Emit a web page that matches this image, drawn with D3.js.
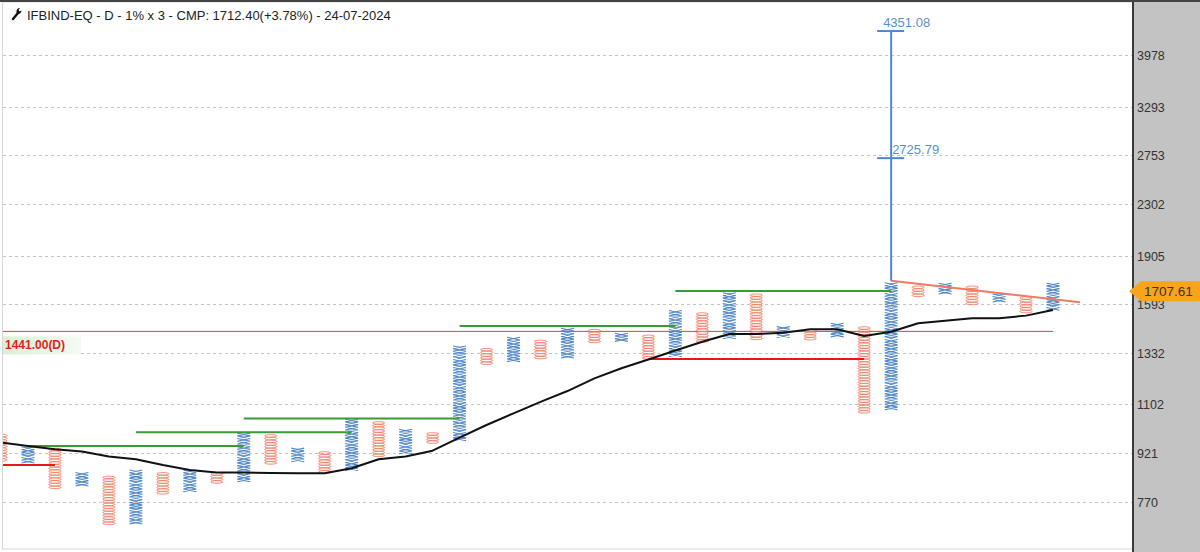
<!DOCTYPE html>
<html>
<head>
<meta charset="utf-8">
<script src="https://cdn.jsdelivr.net/npm/d3@7"></script>
<style>
  html, body { margin: 0; padding: 0; background: #fff; }
  svg { display: block; }
</style>
</head>
<body>
<svg id="chart" width="1200" height="552"></svg>
<script>
// ---- data ----
const colType = ["O","X","O","X","O","X","O","X","O","X","O","X","O","X","O","X","O","X","O","X",
                 "O","X","O","X","O","X","O","X","O","X","O","X","O","X","O","X","O","X","O","X"];
const colHigh = [982, 938, 933, 853, 842, 861, 853, 861, 853, 986, 981, 933, 921, 1038, 1029, 1000, 988, 1359, 1347, 1403,
                 1389, 1450, 1445, 1424, 1415, 1548, 1536, 1653, 1646, 1459, 1445, 1477, 1459, 1715, 1695, 1712, 1695, 1646, 1629, 1712];
const colLow  = [896, 893, 810, 816, 710, 716, 793, 803, 826, 833, 886, 893, 859, 867, 913, 919, 959, 971, 1279, 1290,
                 1307, 1319, 1389, 1399, 1307, 1319, 1389, 1403, 1399, 1417, 1399, 1417, 1071, 1081, 1645, 1661, 1596, 1609, 1548, 1566];
const maValues = [957, 945, 934, 926, 909, 900, 881, 865, 857, 857, 856, 855, 855, 871, 900, 909, 929, 975, 1021, 1066,
                  1112, 1157, 1212, 1258, 1299, 1343, 1387, 1427, 1427, 1434, 1452, 1452, 1417, 1439, 1485, 1499, 1512, 1512, 1527, 1559];
const tickValues = [770, 921, 1102, 1332, 1593, 1905, 2302, 2753, 3293, 3978];

// resistance (green) and support (red) lines: [fromCol, toCol, price]
const resistLines = [[1, 9, 945], [5, 13, 994], [9, 17, 1046], [17, 25, 1470], [25, 33, 1672]];
const supportLines = [[-6, 2, 881], [24, 32, 1302]];
const trendLine = [[33, 1736], [40, 1604]];
const targetCol = 33;
const targetBase = 1736;
const targets = [4351.08, 2725.79];
const dayLevel = 1441.00;
const lastPrice = 1707.61;
const title = "IFBIND-EQ - D - 1% x 3 - CMP: 1712.40(+3.78%) - 24-07-2024";

// ---- layout ----
const width = 1200, height = 552;
const plotRight = 1133;
const boxPct = 1.01;
const font = "'Liberation Sans', Arial, sans-serif";

const svg = d3.select("#chart");

const x = d3.scaleLinear().domain([0, 39]).range([1, 1053]);
const y = d3.scaleLog().domain([770, 3978]).range([501.7, 55.4]);

// axis panel
svg.append("rect")
  .attr("x", plotRight).attr("y", 0)
  .attr("width", width - plotRight).attr("height", height)
  .attr("fill", "#c3c3c3");

// plot frame
svg.append("rect")
  .attr("x", 2.5).attr("y", 2)
  .attr("width", plotRight - 2.5).attr("height", 547)
  .attr("fill", "#fff")
  .attr("stroke", "#d6d6d6");

svg.append("defs").append("clipPath").attr("id", "plotClip")
  .append("rect").attr("x", 3).attr("y", 2).attr("width", plotRight - 3).attr("height", 547);

// grid
svg.append("g")
  .selectAll("line")
  .data(tickValues)
  .join("line")
  .attr("x1", 3).attr("x2", plotRight)
  .attr("y1", d => Math.round(y(d)) + 0.5)
  .attr("y2", d => Math.round(y(d)) + 0.5)
  .attr("stroke", "#c4c4c4")
  .attr("stroke-dasharray", "3,3");

const plot = svg.append("g").attr("clip-path", "url(#plotClip)");

// 1441 day level line
plot.append("line")
  .attr("x1", 0).attr("x2", x(39))
  .attr("y1", y(dayLevel)).attr("y2", y(dayLevel))
  .attr("stroke", "#e43a3a").attr("stroke-width", 1);

// columns of X and O
const boxW = 13;
const cols = colType.map((t, i) => {
  const n = Math.round(Math.log(colHigh[i] / colLow[i]) / Math.log(boxPct)) + 1;
  const boxes = d3.range(n).map(k => colHigh[i] / Math.pow(boxPct, k));
  return { t, i, boxes };
});

const bh = y(1000) - y(1000 * boxPct);

cols.forEach(c => {
  const cx = x(c.i);
  const g = plot.append("g");
  if (c.t === "X") {
    const p = d3.path();
    c.boxes.forEach(v => {
      const yc = y(v);
      p.moveTo(cx - boxW / 2, yc - bh / 2); p.lineTo(cx + boxW / 2, yc + bh / 2);
      p.moveTo(cx + boxW / 2, yc - bh / 2); p.lineTo(cx - boxW / 2, yc + bh / 2);
    });
    g.append("path").attr("d", p.toString())
      .attr("fill", "none").attr("stroke", "#4f87c7").attr("stroke-width", 1.1);
  } else {
    g.selectAll("ellipse")
      .data(c.boxes)
      .join("ellipse")
      .attr("cx", cx).attr("cy", v => y(v))
      .attr("rx", boxW / 2 - 0.3).attr("ry", bh / 2 - 0.1)
      .attr("fill", "none").attr("stroke", "#f47f6b").attr("stroke-width", 0.9);
  }
});

// resistance / support lines
plot.append("g")
  .selectAll("line")
  .data(resistLines)
  .join("line")
  .attr("x1", d => x(d[0])).attr("x2", d => x(d[1]))
  .attr("y1", d => y(d[2])).attr("y2", d => y(d[2]))
  .attr("stroke", "#3b9a36").attr("stroke-width", 2);

plot.append("g")
  .selectAll("line")
  .data(supportLines)
  .join("line")
  .attr("x1", d => x(d[0])).attr("x2", d => x(d[1]))
  .attr("y1", d => y(d[2])).attr("y2", d => y(d[2]))
  .attr("stroke", "#e8161b").attr("stroke-width", 2);

// moving average
plot.append("path")
  .datum(maValues)
  .attr("d", d3.line().x((d, i) => x(i)).y(d => y(d)))
  .attr("fill", "none").attr("stroke", "#111").attr("stroke-width", 2)
  .attr("stroke-linejoin", "round");

// trend line
plot.append("line")
  .attr("x1", x(trendLine[0][0])).attr("y1", y(trendLine[0][1]))
  .attr("x2", x(trendLine[1][0])).attr("y2", y(trendLine[1][1]))
  .attr("stroke", "#f27a62").attr("stroke-width", 2);

// vertical count target
const tx = x(targetCol);
plot.append("line")
  .attr("x1", tx).attr("x2", tx)
  .attr("y1", y(targetBase)).attr("y2", y(targets[0]))
  .attr("stroke", "#4f87c7").attr("stroke-width", 2);

targets.forEach((v, i) => {
  plot.append("line")
    .attr("x1", tx - 14).attr("x2", tx + 13)
    .attr("y1", y(v)).attr("y2", y(v))
    .attr("stroke", "#4f87c7").attr("stroke-width", 2);
  plot.append("text")
    .attr("x", i === 0 ? tx - 8 : tx + 1)
    .attr("y", y(v) - 4)
    .attr("font-family", font).attr("font-size", "13px")
    .attr("fill", "#5b8fc9")
    .text(v.toFixed(2));
});

// 1441.00(D) label
const grad = svg.append("defs").append("linearGradient").attr("id", "lblGrad");
grad.append("stop").attr("offset", "0%").attr("stop-color", "#d9f0d6");
grad.append("stop").attr("offset", "100%").attr("stop-color", "#f4fbf3");
svg.append("rect")
  .attr("x", 3).attr("y", y(dayLevel) + 5)
  .attr("width", 78).attr("height", 18)
  .attr("fill", "url(#lblGrad)");
svg.append("text")
  .attr("x", 5).attr("y", y(dayLevel) + 18)
  .attr("font-family", font).attr("font-size", "12px").attr("font-weight", "bold")
  .attr("fill", "#e01e1e")
  .text(dayLevel.toFixed(2) + "(D)");

// right axis
svg.append("line")
  .attr("x1", plotRight).attr("x2", plotRight)
  .attr("y1", 0).attr("y2", height)
  .attr("stroke", "#3a3a3a").attr("stroke-width", 2);

svg.append("g")
  .selectAll("text")
  .data(tickValues)
  .join("text")
  .attr("x", plotRight + 4)
  .attr("y", d => y(d) + 5)
  .attr("font-family", font).attr("font-size", "12.5px")
  .attr("fill", "#333")
  .text(d => d);

// last price tag
const ty = y(lastPrice) + 6;
svg.append("path")
  .attr("d", `M${plotRight - 4},${ty} L${plotRight + 8},${ty - 10} L${width},${ty - 10} L${width},${ty + 10} L${plotRight + 8},${ty + 10} Z`)
  .attr("fill", "#f8a51c");
svg.append("text")
  .attr("x", plotRight + 11).attr("y", ty + 5)
  .attr("font-family", font).attr("font-size", "13.5px")
  .attr("fill", "#333")
  .text(lastPrice.toFixed(2));

// top border
svg.append("line")
  .attr("x1", 0).attr("x2", width)
  .attr("y1", 1).attr("y2", 1)
  .attr("stroke", "#444").attr("stroke-width", 2);

// title with wrench icon
svg.append("path")
  .attr("d", "M13,19 L18,13")
  .attr("stroke", "#111").attr("stroke-width", 2.4).attr("stroke-linecap", "round");
svg.append("path")
  .attr("d", "M16.5,12.5 C16,10 17.5,8 20,8 L18.5,10 L19.5,11.5 L21.5,10.5 C21.5,13 19.5,14.5 17.5,14 Z")
  .attr("fill", "#111");
svg.append("text")
  .attr("x", 27).attr("y", 20)
  .attr("font-family", font).attr("font-size", "13px")
  .attr("fill", "#222")
  .text(title);
</script>
</body>
</html>
